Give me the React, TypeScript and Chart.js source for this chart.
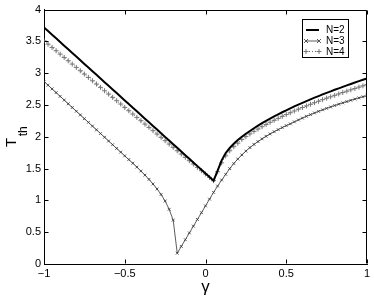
import React, { useEffect, useRef } from 'react';
import { Chart, registerables } from 'chart.js';

Chart.register(...registerables);

// γ sample points
const gamma = [
  -1, -0.975, -0.95, -0.925, -0.9, -0.875, -0.85, -0.825, -0.8, -0.775,
  -0.75, -0.725, -0.7, -0.675, -0.65, -0.625, -0.6, -0.575, -0.55, -0.525,
  -0.5, -0.475, -0.45, -0.425, -0.4, -0.375, -0.35, -0.325, -0.3, -0.275,
  -0.25, -0.225, -0.2, -0.175, -0.15, -0.125, -0.1, -0.075, -0.05, -0.025,
  0, 0.025, 0.05, 0.075, 0.1, 0.125, 0.15, 0.175, 0.2, 0.225,
  0.25, 0.275, 0.3, 0.325, 0.35, 0.375, 0.4, 0.425, 0.45, 0.475,
  0.5, 0.525, 0.55, 0.575, 0.6, 0.625, 0.65, 0.675, 0.7, 0.725,
  0.75, 0.775, 0.8, 0.825, 0.85, 0.875, 0.9, 0.925, 0.95, 0.975, 1,
];

// T_th for N=2
const tN2 = [
  3.72, 3.663, 3.605, 3.548, 3.49, 3.433, 3.376, 3.318, 3.261, 3.203,
  3.146, 3.089, 3.031, 2.974, 2.916, 2.859, 2.802, 2.744, 2.687, 2.629,
  2.572, 2.515, 2.457, 2.4, 2.342, 2.285, 2.228, 2.17, 2.113, 2.055,
  1.998, 1.941, 1.883, 1.826, 1.768, 1.711, 1.654, 1.596, 1.539, 1.481,
  1.424, 1.367, 1.31, 1.47, 1.63, 1.745, 1.825, 1.89, 1.949, 2.0,
  2.048, 2.092, 2.135, 2.175, 2.214, 2.251, 2.287, 2.32, 2.353, 2.386,
  2.417, 2.447, 2.477, 2.506, 2.534, 2.561, 2.589, 2.615, 2.64, 2.666,
  2.691, 2.714, 2.739, 2.762, 2.785, 2.808, 2.831, 2.853, 2.876, 2.897, 2.919,
];

// T_th for N=3
const tN3 = [
  2.87, 2.812, 2.753, 2.695, 2.636, 2.578, 2.519, 2.461, 2.402, 2.344,
  2.285, 2.227, 2.168, 2.11, 2.051, 1.993, 1.934, 1.876, 1.817, 1.759,
  1.7, 1.642, 1.584, 1.524, 1.462, 1.398, 1.33, 1.258, 1.18, 1.093,
  0.99, 0.86, 0.69, 0.17, 0.276, 0.382, 0.489, 0.595, 0.701, 0.807,
  0.914, 1.02, 1.126, 1.225, 1.32, 1.41, 1.5, 1.58, 1.65, 1.715,
  1.775, 1.83, 1.88, 1.925, 1.968, 2.008, 2.045, 2.08, 2.113, 2.145,
  2.176, 2.204, 2.235, 2.265, 2.294, 2.322, 2.349, 2.375, 2.4, 2.424,
  2.447, 2.47, 2.492, 2.513, 2.534, 2.554, 2.574, 2.593, 2.612, 2.63, 2.648,
];

// T_th for N=4
const tN4 = [
  3.51, 3.458, 3.405, 3.353, 3.3, 3.248, 3.196, 3.143, 3.091, 3.039,
  2.986, 2.934, 2.881, 2.829, 2.777, 2.724, 2.672, 2.62, 2.567, 2.515,
  2.462, 2.41, 2.358, 2.305, 2.253, 2.2, 2.148, 2.096, 2.043, 1.991,
  1.939, 1.886, 1.834, 1.781, 1.729, 1.677, 1.624, 1.572, 1.519, 1.467,
  1.415, 1.362, 1.31, 1.45, 1.59, 1.7, 1.78, 1.845, 1.9, 1.958,
  2.003, 2.045, 2.085, 2.122, 2.159, 2.194, 2.228, 2.259, 2.29, 2.321,
  2.35, 2.378, 2.406, 2.434, 2.46, 2.485, 2.511, 2.536, 2.559, 2.584,
  2.607, 2.629, 2.652, 2.674, 2.696, 2.717, 2.739, 2.759, 2.781, 2.801, 2.821,
];

const seriesLabels = ['N=2', 'N=3', 'N=4'];
const xTickValues = [-1, -0.5, 0, 0.5, 1];
const xTickLabels = ['\u22121', '\u22120.5', '0', '0.5', '1'];
const yTickValues = [0, 0.5, 1, 1.5, 2, 2.5, 3, 3.5, 4];
const yTickLabels = ['0', '0.5', '1', '1.5', '2', '2.5', '3', '3.5', '4'];
const xTitle = 'γ';
const yTitleMain = 'T';
const yTitleSub = 'th';

const FONT = "'Liberation Sans', Arial, Helvetica, sans-serif";

export default function App() {
  const ref = useRef<HTMLCanvasElement | null>(null);

  useEffect(() => {
    if (!ref.current) return;
    const toPts = (ys: number[]) => gamma.map((g, i) => ({ x: g, y: ys[i] }));

    const framePlugin = {
      id: 'frame',
      afterDraw(chart: any) {
        const { ctx, chartArea: a, scales } = chart;
        const L = Math.round(a.left) + 0.5;
        const R = Math.round(a.right) - 0.5;
        const Tp = Math.round(a.top) + 0.5;
        const B = Math.round(a.bottom) - 0.5;
        ctx.save();
        ctx.strokeStyle = '#000';
        ctx.lineWidth = 1;
        ctx.setLineDash([]);
        ctx.beginPath();
        ctx.moveTo(L, Tp);
        ctx.lineTo(R, Tp);
        ctx.lineTo(R, B);
        ctx.stroke();
        // inward ticks
        const tl = 4;
        ctx.beginPath();
        xTickValues.forEach((v) => {
          const px = Math.round(scales.x.getPixelForValue(v)) + 0.5;
          ctx.moveTo(px, B); ctx.lineTo(px, B - tl);
          ctx.moveTo(px, Tp); ctx.lineTo(px, Tp + tl);
        });
        yTickValues.forEach((v) => {
          const py = Math.round(scales.y.getPixelForValue(v)) + 0.5;
          ctx.moveTo(L, py); ctx.lineTo(L + tl, py);
          ctx.moveTo(R, py); ctx.lineTo(R - tl, py);
        });
        ctx.stroke();

        // x title
        ctx.fillStyle = '#000';
        ctx.font = `17px ${FONT}`;
        ctx.textAlign = 'center';
        ctx.textBaseline = 'middle';
        ctx.fillText(xTitle, (a.left + a.right) / 2, 287);

        // y title with subscript
        ctx.save();
        ctx.translate(16, 147);
        ctx.rotate(-Math.PI / 2);
        ctx.textAlign = 'left';
        ctx.textBaseline = 'alphabetic';
        ctx.font = `15px ${FONT}`;
        ctx.fillText(yTitleMain, 0, 0);
        const w = ctx.measureText(yTitleMain).width;
        ctx.font = `12px ${FONT}`;
        ctx.fillText(yTitleSub, w + 1.5, 11);
        ctx.restore();

        // legend
        const bx = 302.5, by = 19.5, bw = 46, bh = 38;
        ctx.fillStyle = '#fff';
        ctx.fillRect(bx, by, bw, bh);
        ctx.strokeStyle = '#000';
        ctx.lineWidth = 1;
        ctx.strokeRect(bx, by, bw, bh);
        const rows = [30, 41, 51.5];
        chart.data.datasets.forEach((ds: any, i: number) => {
          const y = rows[i];
          const x0 = 306, x1 = 319;
          ctx.save();
          ctx.strokeStyle = ds.borderColor;
          ctx.lineWidth = ds.borderWidth;
          ctx.setLineDash(ds.borderDash || []);
          ctx.beginPath();
          ctx.moveTo(x0, y); ctx.lineTo(x1, y);
          ctx.stroke();
          ctx.setLineDash([]);
          if (ds.pointRadius > 0) {
            ctx.strokeStyle = ds.pointBorderColor;
            ctx.lineWidth = ds.pointBorderWidth;
            const r = ds.pointRadius;
            [x0, x1].forEach((px) => {
              ctx.beginPath();
              if (ds.pointStyle === 'crossRot') {
                ctx.moveTo(px - r, y - r); ctx.lineTo(px + r, y + r);
                ctx.moveTo(px - r, y + r); ctx.lineTo(px + r, y - r);
              } else {
                ctx.moveTo(px - r, y); ctx.lineTo(px + r, y);
                ctx.moveTo(px, y - r); ctx.lineTo(px, y + r);
              }
              ctx.stroke();
            });
          }
          ctx.restore();
          ctx.fillStyle = '#000';
          ctx.font = `10px ${FONT}`;
          ctx.textAlign = 'left';
          ctx.textBaseline = 'middle';
          ctx.fillText(ds.label, 326, y + 0.5);
        });
        ctx.restore();
      },
    };

    const chart = new Chart(ref.current, {
      type: 'line',
      data: {
        datasets: [
          {
            label: seriesLabels[0],
            data: toPts(tN2),
            borderColor: '#000',
            borderWidth: 2,
            pointRadius: 0,
            fill: false,
            tension: 0,
          },
          {
            label: seriesLabels[1],
            data: toPts(tN3),
            borderColor: '#333',
            borderWidth: 0.8,
            pointStyle: 'crossRot',
            pointRadius: 2,
            pointBorderColor: '#333',
            pointBorderWidth: 0.8,
            fill: false,
            tension: 0,
          },
          {
            label: seriesLabels[2],
            data: toPts(tN4),
            borderColor: '#666',
            borderWidth: 1,
            borderDash: [1, 2],
            pointStyle: 'cross',
            pointRadius: 2.5,
            pointBorderColor: '#777',
            pointBorderWidth: 1,
            fill: false,
            tension: 0,
          },
        ],
      },
      options: {
        responsive: false,
        maintainAspectRatio: false,
        animation: false,
        events: [],
        layout: { padding: { top: 9, right: 7, left: 0, bottom: 0 } },
        plugins: { legend: { display: false }, tooltip: { enabled: false } },
        scales: {
          x: {
            type: 'linear',
            min: -1,
            max: 1,
            afterBuildTicks: (s: any) => { s.ticks = xTickValues.map((v) => ({ value: v })); },
            afterFit: (s: any) => { s.height = 34; },
            grid: { display: true, drawOnChartArea: false, drawTicks: false },
            border: { display: true, color: '#000', width: 1 },
            ticks: {
              autoSkip: false,
              maxRotation: 0,
              padding: 3,
              color: '#000',
              font: { family: FONT, size: 11 },
              callback: (_v: any, i: number) => xTickLabels[i],
            },
          },
          y: {
            type: 'linear',
            min: 0,
            max: 4,
            afterBuildTicks: (s: any) => { s.ticks = yTickValues.map((v) => ({ value: v })); },
            afterFit: (s: any) => { s.width = 44; },
            grid: { display: true, drawOnChartArea: false, drawTicks: false },
            border: { display: true, color: '#000', width: 1 },
            ticks: {
              autoSkip: false,
              padding: 3,
              color: '#000',
              font: { family: FONT, size: 11 },
              callback: (_v: any, i: number) => yTickLabels[i],
            },
          },
        },
      },
      plugins: [framePlugin],
    });
    return () => chart.destroy();
  }, []);

  return (
    <div style={{ position: 'fixed', left: 0, top: 0, width: 374, height: 298, background: '#fff' }}>
      <canvas ref={ref} width={374} height={298} style={{ width: 374, height: 298, display: 'block' }} />
    </div>
  );
}
